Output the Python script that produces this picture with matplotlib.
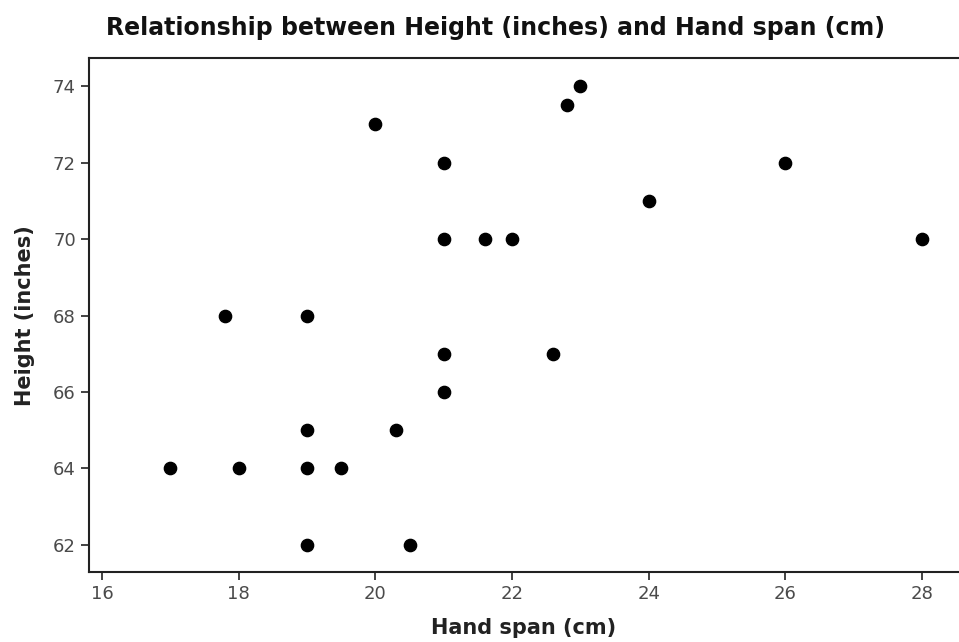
import matplotlib
matplotlib.use('Agg')
from matplotlib import pyplot as plt

hand_span = [17, 17.8, 18, 19, 19, 19, 19, 19.5, 20, 20.3, 20.5,
             21, 21, 21, 21, 21.6, 22, 22.6, 22.8, 23, 24, 26, 28]
height = [64, 68, 64, 68, 65, 64, 62, 64, 73, 65, 62,
          72, 70, 67, 66, 70, 70, 67, 73.5, 74, 71, 72, 70]
x_ticks = [16, 18, 20, 22, 24, 26, 28]
y_ticks = [62, 64, 66, 68, 70, 72, 74]

fig = plt.figure(figsize=(9.59, 6.42), dpi=100)
ax = fig.add_axes([0.0928, 0.109, 0.9072, 0.8003])

ax.scatter(hand_span, height, s=78, color='black', zorder=3)

ax.set_xlim(15.81, 28.54)
ax.set_ylim(61.29, 74.73)
ax.set_xticks(x_ticks)
ax.set_yticks(y_ticks)
ax.tick_params(direction='out', length=6, width=1.2, color='#222222',
               labelsize=13, labelcolor='#4a4a4a')
for side in ['left', 'bottom', 'top']:
    ax.spines[side].set_linewidth(1.5)
    ax.spines[side].set_color('#222222')
ax.spines['right'].set_visible(False)

ax.set_xlabel('Hand span (cm)', fontsize=15, fontweight='bold', color='#222222', labelpad=11)
ax.set_ylabel('Height (inches)', fontsize=15, fontweight='bold', color='#222222', labelpad=13)
fig.text(0.517, 0.957, 'Relationship between Height (inches) and Hand span (cm)',
         ha='center', va='center', fontsize=17, fontweight='bold', color='#111111')

fig.savefig('out.png', dpi=100)
